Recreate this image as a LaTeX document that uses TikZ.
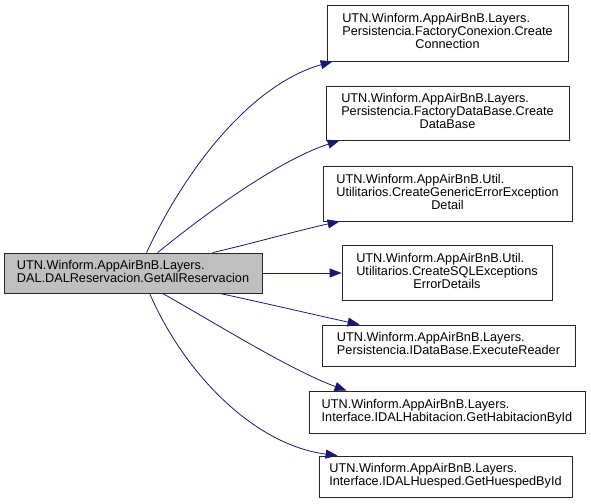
\documentclass[tikz,border=0pt]{standalone}
\usepackage{fontspec}
\setmainfont{Liberation Sans}
\usetikzlibrary{arrows.meta}
\definecolor{edgeblue}{RGB}{25,25,112}
\definecolor{rootfill}{RGB}{191,191,191}
\tikzset{
  box/.style={draw=black!85, line width=0.8pt, fill=white, inner sep=0pt, align=center,
    font=\fontsize{12.7}{13}\selectfont},
  rootbox/.style={box, fill=rootfill},
  link/.style={draw=edgeblue, line width=0.8pt, -{Triangle[length=12pt,width=9pt]}}
}
\newcommand{\lt}[2]{\begin{tabular}{@{}l@{}}#1\\#2\end{tabular}}
\newcommand{\ltc}[3]{\begin{tabular}{@{}l@{}}#1\\#2\\\multicolumn{1}{@{}c@{}}{#3}\end{tabular}}
\begin{document}
\begin{tikzpicture}[x=1pt,y=-1pt]
\useasboundingbox (0,0) rectangle (591,503);
\node[rootbox, minimum width=258pt, minimum height=40pt] (main) at (133,273)
  {\lt{UTN.Winform.AppAirBnB.Layers.}{DAL.DALReservacion.GetAllReservacion}};
\node[box, minimum width=241pt, minimum height=56pt] (b1) at (447.5,33)
  {\ltc{UTN.Winform.AppAirBnB.Layers.}{Persistencia.FactoryConexion.Create}{Connection}};
\node[box, minimum width=243pt, minimum height=54pt] (b2) at (447.5,113)
  {\ltc{UTN.Winform.AppAirBnB.Layers.}{Persistencia.FactoryDataBase.Create}{DataBase}};
\node[box, minimum width=249pt, minimum height=55pt] (b3) at (447.5,193.5)
  {\ltc{UTN.Winform.AppAirBnB.Util.}{Utilitarios.CreateGenericErrorException}{Detail}};
\node[box, minimum width=210pt, minimum height=55pt] (b4) at (447,273)
  {\ltc{UTN.Winform.AppAirBnB.Util.}{Utilitarios.CreateSQLExceptions}{ErrorDetails}};
\node[box, minimum width=253pt, minimum height=41pt] (b5) at (448.5,345.5)
  {\lt{UTN.Winform.AppAirBnB.Layers.}{Persistencia.IDataBase.ExecuteReader}};
\node[box, minimum width=276pt, minimum height=42pt] (b6) at (447,412)
  {\lt{UTN.Winform.AppAirBnB.Layers.}{Interface.IDALHabitacion.GetHabitacionById}};
\node[box, minimum width=253pt, minimum height=41pt] (b7) at (445.5,476.5)
  {\lt{UTN.Winform.AppAirBnB.Layers.}{Interface.IDALHuesped.GetHuespedById}};

\draw[link] ([xshift=143pt]main.north west) .. controls (185,170) and (250,85) .. ([xshift=6pt]b1.south west);
\draw[link] ([xshift=154pt]main.north west) .. controls (210,210) and (280,160) .. ([xshift=14pt]b2.south west);
\draw[link] ([xshift=209pt]main.north west) .. controls (250,244) and (300,230) .. ([xshift=17pt]b3.south west);
\draw[link] (main.east) -- (main.east -| b4.west);
\draw[link] ([xshift=216pt]main.south west) .. controls (260,302) and (320,316) .. ([xshift=38pt]b5.north west);
\draw[link] ([xshift=159pt]main.south west) .. controls (210,320) and (290,370) .. ([xshift=38pt]b6.north west);
\draw[link] ([xshift=146pt]main.south west) .. controls (185,375) and (255,445) .. ([xshift=19pt]b7.north west);
\end{tikzpicture}
\end{document}
